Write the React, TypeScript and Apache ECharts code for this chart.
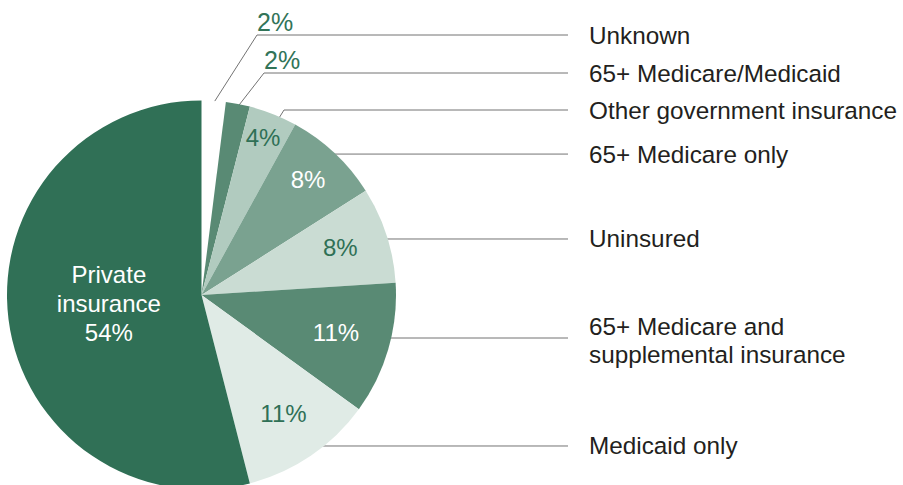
import { useEffect, useRef } from "react";
import * as echarts from "echarts";

// ---- data ----
const categories = [
  "Unknown",
  "65+ Medicare/Medicaid",
  "Other government insurance",
  "65+ Medicare only",
  "Uninsured",
  "65+ Medicare and\nsupplemental insurance",
  "Medicaid only",
  "Private insurance",
];
const shares = [2, 2, 4, 8, 8, 11, 11, 54];

// ---- styles ----
const sliceColors = [
  "#ffffff",
  "#598a74",
  "#b1cbbf",
  "#7aa290",
  "#cadcd3",
  "#598a74",
  "#e0ebe6",
  "#307056",
];
const pctTextColors = [
  "#327458",
  "#327458",
  "#2f7056",
  "#ffffff",
  "#2f7056",
  "#ffffff",
  "#2f7056",
  "#ffffff",
];

// ---- layout ----
const CX = 201.5;
const CY = 295;
const R = 194.5;
const FONT = "'Liberation Sans', Arial, Helvetica, sans-serif";
// leader line start: radius factor and angle offset from the slice's mid-angle
const LEADER_RF = [0.983, 0.944, 0.975, 0.963, 0.942, 0.914, 0.95, 0];
const LEADER_DA = [-0.2, -1.2, 1.9, -2, 0.2, -2.2, -1, 0];
const LABEL_Y: (number | null)[] = [35, 73, 110, null, null, null, null, null];
const ELBOW_X: (number | null)[] = [257, 264, 284, null, null, null, null, null];
const LINE_END_X = 568;
const NAME_X = 589;
const PCT_RF = [0, 0, 0.86, 0.8, 0.75, 0.72, 0.75, 0.48];
const PCT_DY = -2;
const PRIVATE_DY = -1;

const total = shares.reduce((a, b) => a + b, 0);
function midAngle(i: number) {
  let before = 0;
  for (let k = 0; k < i; k++) before += shares[k];
  return ((before + shares[i] / 2) / total) * 360;
}
function polar(rf: number, deg: number): [number, number] {
  const t = (deg * Math.PI) / 180;
  return [CX + rf * R * Math.sin(t), CY - rf * R * Math.cos(t)];
}

export default function App() {
  const ref = useRef<HTMLDivElement>(null);
  useEffect(() => {
    if (!ref.current) return;
    const chart = echarts.init(ref.current, undefined, { renderer: "svg" });
    const pctData = categories.map((name, i) => ({
      name,
      value: shares[i],
      itemStyle: { color: sliceColors[i] },
      label: {
        color: pctTextColors[i],
        formatter: i === 7 ? "Private\ninsurance\n" + shares[i] + "%" : shares[i] + "%",
        lineHeight: i === 7 ? 29 : 24,
        fontSize: i <= 1 ? 25 : 24,
      },
    }));
    const nameData = categories.map((name, i) =>
      i === 7
        ? { name, value: shares[i], label: { show: false }, labelLine: { show: false } }
        : { name, value: shares[i] }
    );
    chart.setOption({
      animation: false,
      series: [
        {
          type: "pie",
          center: [CX, CY],
          radius: R,
          startAngle: 90,
          clockwise: true,
          avoidLabelOverlap: false,
          silent: true,
          emphasis: { disabled: true },
          itemStyle: { borderWidth: 0 },
          label: {
            show: true,
            position: "inside",
            fontFamily: FONT,
            fontSize: 24,
          },
          labelLine: { show: false },
          labelLayout: (p: any) => {
            const i = p.dataIndex;
            if (i <= 1) {
              return {
                x: ELBOW_X[i],
                y: (LABEL_Y[i] as number) - 13,
                align: "left",
                verticalAlign: "middle",
              };
            }
            const [x, y] = polar(PCT_RF[i], midAngle(i));
            return {
              x,
              y: y + PCT_DY + (i === 7 ? PRIVATE_DY : 0),
              align: "center",
              verticalAlign: "middle",
            };
          },
          data: pctData,
        },
        {
          type: "pie",
          center: [CX, CY],
          radius: R,
          startAngle: 90,
          clockwise: true,
          avoidLabelOverlap: false,
          silent: true,
          emphasis: { disabled: true },
          itemStyle: { color: "rgba(0,0,0,0)", borderWidth: 0 },
          label: {
            show: true,
            position: "outside",
            formatter: "{b}",
            fontFamily: FONT,
            fontSize: 24.3,
            lineHeight: 28,
            color: "#231f20",
          },
          labelLine: {
            show: true,
            length: 10,
            length2: 10,
            lineStyle: { color: "#737373", width: 1 },
          },
          labelLayout: (p: any) => {
            const i = p.dataIndex;
            const [sx, sy] = polar(LEADER_RF[i], midAngle(i) + LEADER_DA[i]);
            const ly = LABEL_Y[i] == null ? sy : (LABEL_Y[i] as number);
            const ex = ELBOW_X[i] == null ? sx : (ELBOW_X[i] as number);
            return {
              x: NAME_X,
              y: ly + (i === 5 ? 2 : 0),
              align: "left",
              verticalAlign: "middle",
              labelLinePoints: [
                [sx, sy],
                [ex, ly],
                [LINE_END_X, ly],
              ],
            };
          },
          data: nameData,
        },
      ],
    });
    return () => chart.dispose();
  }, []);
  return (
    <div
      ref={ref}
      style={{ position: "absolute", left: 0, top: 0, width: 903, height: 485, background: "#fff" }}
    />
  );
}
